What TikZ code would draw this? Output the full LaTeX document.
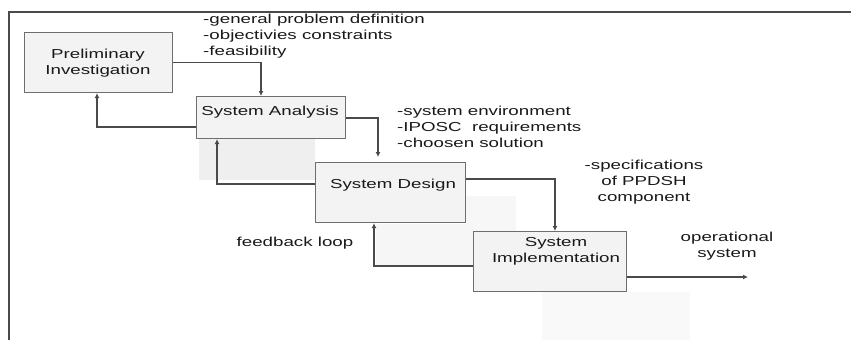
\documentclass[tikz,border=0pt]{standalone}
\usepackage{fontspec}
\setmainfont{Liberation Sans}[FakeStretch=1.44]
\usetikzlibrary{arrows.meta,calc}
\definecolor{lncol}{HTML}{4A4A4A}
\definecolor{bxfill}{HTML}{F3F3F3}
\definecolor{shd}{HTML}{EFEFEF}
\tikzset{
  stagebox/.style={draw=lncol!80, line width=1.1pt, fill=bxfill, inner sep=0pt, anchor=north west},
  txt/.style={inner sep=0pt, text=black!90, font=\fontsize{13}{15.8}\selectfont},
  conn/.style={draw=lncol, line width=1.3pt, -{Latex[length=5pt,width=5pt]}},
}
\begin{document}
\begin{tikzpicture}[x=1pt,y=-1pt]
\useasboundingbox (0,0) rectangle (851,340);
% faint reflection shading
\fill[shd] (199,139) rectangle (315,180);
\fill[shd!50] (466,196) rectangle (516,258);
\fill[shd!55] (376,224) rectangle (473,265);
\fill[shd!40] (542,292) rectangle (690,340);
% outer frame
\draw[lncol, line width=1.3pt] (9,340) -- (9,12) -- (851,12);
% boxes
\node[stagebox, minimum width=148, minimum height=60] (pi) at (24,32) {};
\node[stagebox, minimum width=149, minimum height=42] (sa) at (196,96) {};
\node[stagebox, minimum width=150, minimum height=60] (sd) at (315,162) {};
\node[stagebox, minimum width=153, minimum height=60] (si) at (473,231) {};
% box texts
\node[txt, align=center] (tpi) at (98,63) {Preliminary\\Investigation};
\node[txt] (tsa) at (270,112) {System Analysis};
\node[txt] (tsd) at (393,185) {System Design};
\node[txt, align=center] (tsi) at (556,251) {System\\Implementation};
% annotations
\node[txt, align=left, anchor=west] (n1) at (203,36) {-general problem definition\\-objectivies constraints\\-feasibility};
\node[txt, align=left, anchor=west] (n2) at (397,127) {-system environment\\-IPOSC\ \ requirements\\-choosen solution};
\node[txt, align=center] (n3) at (644,182) {-specifications\\of PPDSH\\component};
\node[txt] (n4) at (295,243) {feedback loop};
\node[txt, align=center] (n5) at (727,246) {operational\\system};
\coordinate (out) at (748,277);
% connectors
\draw[conn] (pi.east) -| ([xshift=65]sa.north west);
\draw[conn] ([yshift=-31]sa.north west) -| ([xshift=73]pi.south west);
\draw[conn, shorten >=5pt] ([yshift=-22]sa.north east) -| ([xshift=63]sd.north west);
\draw[conn] ([yshift=-22]sd.north west) -| ([xshift=21]sa.south west);
\draw[conn] ([yshift=-17]sd.north east) -| ([xshift=82]si.north west);
\draw[conn] ([yshift=-35]si.north west) -| ([xshift=59]sd.south west);
\draw[conn] ([yshift=-46]si.north east) -- (out);
\end{tikzpicture}
\end{document}
